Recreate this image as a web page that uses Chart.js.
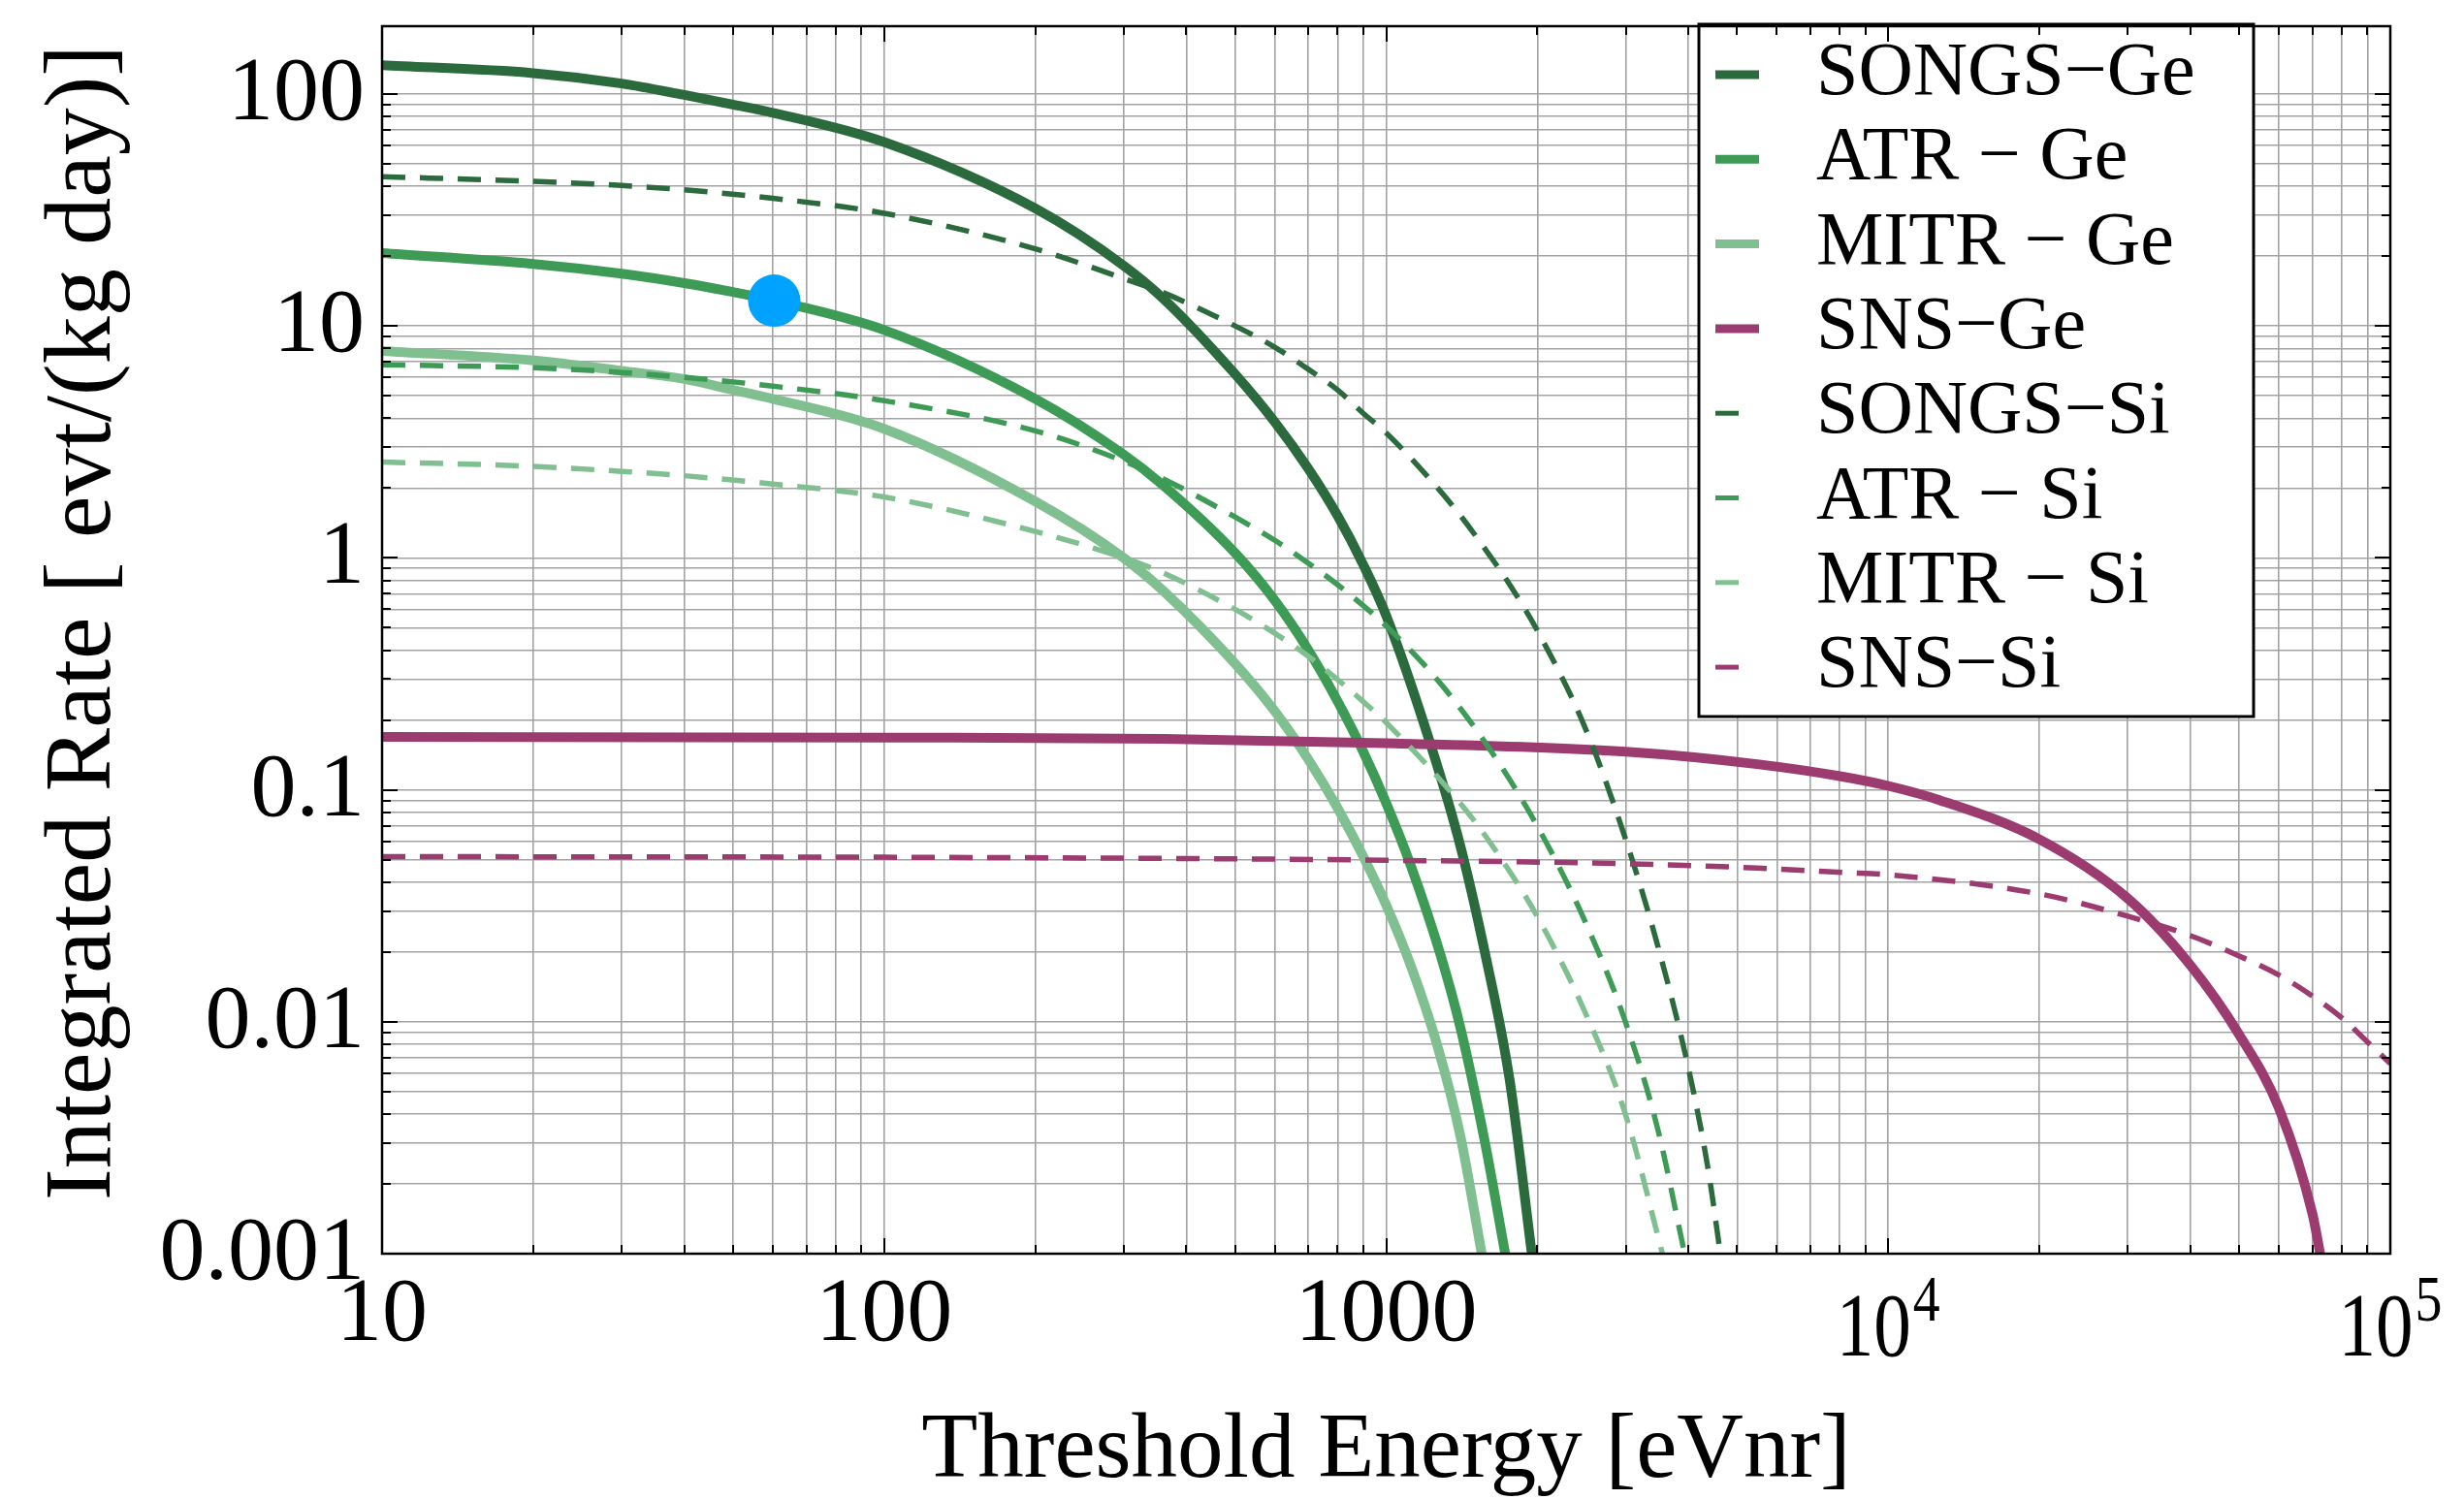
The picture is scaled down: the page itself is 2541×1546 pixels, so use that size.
<!DOCTYPE html>
<html>
<head>
<meta charset="utf-8">
<script src="https://cdn.jsdelivr.net/npm/chart.js@4.4.0/dist/chart.umd.min.js"></script>
<style>
html,body{margin:0;padding:0;background:#ffffff;overflow:hidden;}
#wrap{width:2541px;height:1546px;position:relative;}
canvas{display:block;}
</style>
</head>
<body>
<div id="wrap"><canvas id="c" width="2541" height="1546"></canvas></div>
<script>
// ---------------- data ----------------
const songsGeX = [10, 20, 30, 40, 50, 60, 100, 200, 300, 360, 500, 600, 700, 800, 900, 1000, 1228, 1406, 1574, 1762, 1950];
const songsGeY = [133, 123, 111, 99, 90, 83, 62, 32.1, 18.2, 13.1, 6.2, 3.85, 2.42, 1.52, 0.935, 0.564, 0.155, 0.057, 0.0197, 0.0056, 0.001];

const atrGeX = [10, 20, 30, 40, 50, 60, 100, 200, 300, 360, 500, 600, 700, 800, 900, 1000, 1120, 1285, 1406, 1574, 1726];
const atrGeY = [20.6, 18.5, 16.8, 15.3, 14.0, 12.9, 9.6, 4.85, 2.79, 2.05, 1.05, 0.655, 0.40, 0.241, 0.146, 0.0877, 0.047, 0.0192, 0.0094, 0.003, 0.001];

const mitrGeX = [10, 20, 30, 40, 50, 60, 100, 200, 300, 360, 500, 600, 700, 800, 900, 1000, 1120, 1260, 1406, 1550];
const mitrGeY = [7.8, 7.1, 6.4, 5.9, 5.3, 4.85, 3.6, 1.75, 1.0, 0.72, 0.35, 0.218, 0.135, 0.0836, 0.0516, 0.0318, 0.0174, 0.0081, 0.0032, 0.001];

const snsGeX = [10, 100, 360, 1000, 3000, 5480, 8110, 10000, 12650, 20000, 30000, 40000, 50000, 60000, 70000, 72500];
const snsGeY = [0.169, 0.168, 0.166, 0.159, 0.146, 0.129, 0.114, 0.104, 0.0903, 0.0612, 0.034, 0.0175, 0.0088, 0.00424, 0.00148, 0.001];

const songsSiX = [10, 20, 30, 40, 60, 100, 200, 300, 360, 500, 600, 700, 800, 900, 1000, 1228, 1406, 1610, 1762, 2000, 2480, 3000, 3480, 4000, 4380, 4630];
const songsSiY = [44, 42, 40.3, 38.6, 35.5, 30.6, 21.5, 16, 13.9, 10, 8.1, 6.5, 5.3, 4.2, 3.46, 2.16, 1.52, 1.02, 0.767, 0.486, 0.189, 0.061, 0.021, 0.0063, 0.0023, 0.001];

const atrSiX = [10, 20, 30, 40, 60, 100, 200, 300, 360, 500, 600, 700, 800, 900, 1000, 1285, 1610, 2000, 2480, 3000, 3480, 3930];
const atrSiY = [6.8, 6.6, 6.3, 6.0, 5.5, 4.76, 3.53, 2.61, 2.19, 1.50, 1.19, 0.948, 0.766, 0.622, 0.509, 0.286, 0.149, 0.0697, 0.0276, 0.0099, 0.0034, 0.001];

const mitrSiX = [10, 20, 30, 40, 60, 100, 200, 300, 360, 500, 600, 700, 800, 900, 1000, 1406, 1610, 2000, 2480, 3000, 3550];
const mitrSiY = [2.59, 2.48, 2.36, 2.26, 2.08, 1.83, 1.30, 1.0, 0.86, 0.6, 0.473, 0.376, 0.299, 0.240, 0.195, 0.0873, 0.0593, 0.0284, 0.0112, 0.00395, 0.001];

const snsSiX = [10, 100, 360, 1000, 3000, 5480, 8110, 10000, 20000, 30000, 40000, 50000, 60000, 70000, 80000, 90000, 100000];
const snsSiY = [0.0515, 0.0512, 0.0506, 0.0497, 0.048, 0.046, 0.044, 0.043, 0.0356, 0.0285, 0.0235, 0.0192, 0.0159, 0.0129, 0.0104, 0.0082, 0.0066];

const markerX = [60.4];
const markerY = [12.85];

const seriesLabels = ['SONGS\u2212Ge', 'ATR \u2212 Ge', 'MITR \u2212 Ge', 'SNS\u2212Ge', 'SONGS\u2212Si', 'ATR \u2212 Si', 'MITR \u2212 Si', 'SNS\u2212Si'];

// axis ticks
const xMajorTicks = [10, 100, 1000, 10000, 100000];
const xTickLabelBase = ['10', '100', '1000', '10', '10'];
const xTickLabelExp = ['', '', '', '4', '5'];
const yMajorTicks = [0.001, 0.01, 0.1, 1, 10, 100];
const yTickLabels = ['0.001', '0.01', '0.1', '1', '10', '100'];
const minorMultipliers = [2, 3, 4, 5, 6, 7, 8, 9];
const xRange = [10, 100000];
const yRange = [0.001, 196];

const xTitle = 'Threshold Energy [eVnr]';
const yTitle = 'Integrated Rate [ evt/(kg day)]';

// ---------------- styles ----------------
const DARK = '#2b6a3c';
const MID = '#3d9b56';
const LIGHT = '#80bf90';
const PURPLE = '#9b3b6f';
const SERIF = '"Liberation Serif", "Times New Roman", serif';

function withMinors(majors) {
  const out = [];
  majors.forEach((m, i) => {
    out.push(m);
    if (i < majors.length - 1) minorMultipliers.forEach(k => out.push(Number((m * k).toPrecision(6))));
  });
  return out;
}
const xTicksAll = withMinors(xMajorTicks);
const yTicksAll = withMinors(yMajorTicks);

function pts(xs, ys) { return xs.map((x, i) => ({ x: x, y: ys[i] })); }

function solid(label, color, xs, ys, idx) {
  return { label, data: pts(xs, ys), borderColor: color, backgroundColor: color, borderWidth: 10,
    pointRadius: 0, fill: false, cubicInterpolationMode: 'monotone', order: 20 - idx, kind: 'solid' };
}
function dashed(label, color, xs, ys, idx) {
  return { label, data: pts(xs, ys), borderColor: color, backgroundColor: color, borderWidth: 5.5,
    borderDash: [24, 15], borderCapStyle: 'butt', pointRadius: 0, fill: false,
    cubicInterpolationMode: 'monotone', order: 20 - idx, kind: 'dashed' };
}

const datasets = [
  solid(seriesLabels[0], DARK, songsGeX, songsGeY, 0),
  solid(seriesLabels[1], MID, atrGeX, atrGeY, 1),
  solid(seriesLabels[2], LIGHT, mitrGeX, mitrGeY, 2),
  solid(seriesLabels[3], PURPLE, snsGeX, snsGeY, 3),
  dashed(seriesLabels[4], DARK, songsSiX, songsSiY, 4),
  dashed(seriesLabels[5], MID, atrSiX, atrSiY, 5),
  dashed(seriesLabels[6], LIGHT, mitrSiX, mitrSiY, 6),
  dashed(seriesLabels[7], PURPLE, snsSiX, snsSiY, 7),
  { label: 'point', data: pts(markerX, markerY), showLine: false, pointRadius: 27, pointHoverRadius: 27,
    pointBackgroundColor: '#00a2ff', pointBorderColor: '#00a2ff', pointBorderWidth: 0, order: -10, kind: 'marker' }
];

const decorPlugin = {
  id: 'decor',
  afterDraw(chart) {
    const ctx = chart.ctx;
    const xs = chart.scales.x, ys = chart.scales.y;
    const a = chart.chartArea;
    ctx.save();

    // legend box
    const lx0 = 1752, ly0 = 25, lx1 = 2324, ly1 = 739;
    ctx.fillStyle = '#ffffff';
    ctx.fillRect(lx0, ly0, lx1 - lx0, ly1 - ly0);
    ctx.strokeStyle = '#000000';
    ctx.lineWidth = 3;
    ctx.strokeRect(lx0, ly0, lx1 - lx0, ly1 - ly0);
    ctx.font = '78px ' + SERIF;
    ctx.textAlign = 'left';
    ctx.textBaseline = 'alphabetic';
    let row = 0;
    chart.data.datasets.forEach(ds => {
      if (ds.kind === 'marker') return;
      const cy = 77 + row * 87.3;
      ctx.strokeStyle = ds.borderColor;
      ctx.setLineDash([]);
      ctx.lineCap = 'butt';
      if (ds.kind === 'solid') { ctx.lineWidth = 9; ctx.beginPath(); ctx.moveTo(1769, cy); ctx.lineTo(1814, cy); ctx.stroke(); }
      else { ctx.lineWidth = 5; ctx.beginPath(); ctx.moveTo(1769, cy); ctx.lineTo(1793, cy); ctx.stroke(); }
      ctx.fillStyle = '#000000';
      ctx.fillText(ds.label, 1873, cy + 20);
      row++;
    });

    // frame
    ctx.strokeStyle = '#000000';
    ctx.lineWidth = 2.5;
    ctx.strokeRect(a.left, a.top, a.right - a.left, a.bottom - a.top);
    // inward ticks
    ctx.lineWidth = 2;
    xTicksAll.forEach(v => {
      const px = Math.round(xs.getPixelForValue(v));
      const len = xMajorTicks.includes(v) ? 16 : 9;
      ctx.beginPath(); ctx.moveTo(px, a.bottom); ctx.lineTo(px, a.bottom - len); ctx.stroke();
      ctx.beginPath(); ctx.moveTo(px, a.top); ctx.lineTo(px, a.top + len); ctx.stroke();
    });
    yTicksAll.forEach(v => {
      const py = Math.round(ys.getPixelForValue(v));
      const len = yMajorTicks.includes(v) ? 16 : 9;
      ctx.beginPath(); ctx.moveTo(a.left, py); ctx.lineTo(a.left + len, py); ctx.stroke();
      ctx.beginPath(); ctx.moveTo(a.right, py); ctx.lineTo(a.right - len, py); ctx.stroke();
    });

    // y tick labels
    ctx.fillStyle = '#000000';
    ctx.font = '94px ' + SERIF;
    ctx.textAlign = 'right';
    ctx.textBaseline = 'alphabetic';
    yMajorTicks.forEach((v, i) => {
      const py = ys.getPixelForValue(v);
      ctx.fillText(yTickLabels[i], 376, py + 26);
    });

    // x tick labels
    xMajorTicks.forEach((v, i) => {
      const px = xs.getPixelForValue(v);
      if (!xTickLabelExp[i]) {
        ctx.font = '94px ' + SERIF;
        ctx.textAlign = 'center';
        ctx.fillText(xTickLabelBase[i], px, 1382);
      } else {
        ctx.font = '94px ' + SERIF;
        const sx = 0.82;
        const bw = ctx.measureText(xTickLabelBase[i]).width * sx;
        ctx.font = '68px ' + SERIF;
        const ew = ctx.measureText(xTickLabelExp[i]).width * sx;
        const start = px - (bw + ew + 2) / 2;
        ctx.textAlign = 'left';
        ctx.save();
        ctx.translate(start, 1398);
        ctx.scale(sx, 1);
        ctx.font = '94px ' + SERIF;
        ctx.fillText(xTickLabelBase[i], 0, 0);
        ctx.restore();
        ctx.save();
        ctx.translate(start + bw + 2, 1362);
        ctx.scale(sx, 1);
        ctx.font = '68px ' + SERIF;
        ctx.fillText(xTickLabelExp[i], 0, 0);
        ctx.restore();
      }
    });

    // axis titles
    ctx.font = '95px ' + SERIF;
    ctx.textAlign = 'center';
    ctx.fillText(xTitle, (a.left + a.right) / 2, 1523);
    ctx.save();
    ctx.translate(113, 642);
    ctx.rotate(-Math.PI / 2);
    ctx.font = '98px ' + SERIF;
    ctx.textAlign = 'center';
    ctx.fillText(yTitle, 0, 0);
    ctx.restore();

    ctx.restore();
  }
};

new Chart(document.getElementById('c'), {
  type: 'line',
  data: { datasets },
  options: {
    responsive: false,
    animation: false,
    devicePixelRatio: 1,
    parsing: true,
    layout: { padding: { left: 394, top: 16, right: 76, bottom: 253 } },
    plugins: { legend: { display: false }, tooltip: { enabled: false } },
    events: [],
    scales: {
      x: {
        type: 'logarithmic', min: xRange[0], max: xRange[1],
        afterBuildTicks: s => { s.ticks = xTicksAll.map(v => ({ value: v })); },
        ticks: { display: false },
        grid: { color: '#a3a3a3', lineWidth: 1.6, drawTicks: false },
        border: { display: false },
        title: { display: false }
      },
      y: {
        type: 'logarithmic', min: yRange[0], max: yRange[1],
        afterBuildTicks: s => { s.ticks = yTicksAll.map(v => ({ value: v })); },
        ticks: { display: false },
        grid: { color: '#a3a3a3', lineWidth: 1.6, drawTicks: false },
        border: { display: false },
        title: { display: false }
      }
    }
  },
  plugins: [decorPlugin]
});
</script>
</body>
</html>
